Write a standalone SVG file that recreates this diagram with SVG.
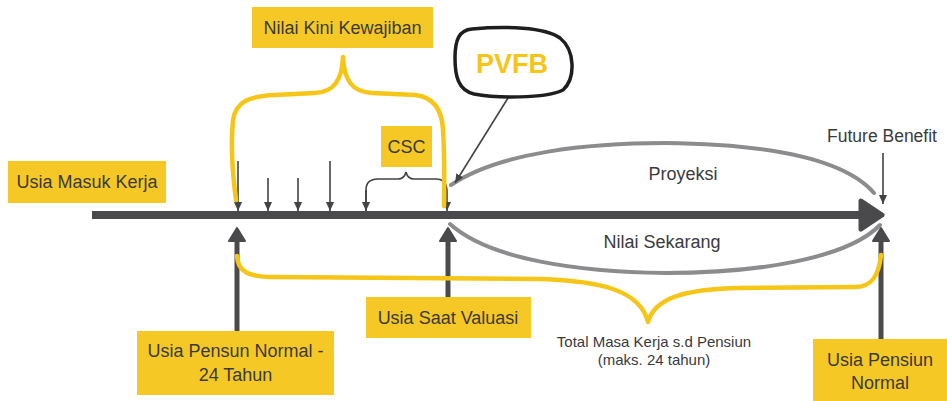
<svg xmlns="http://www.w3.org/2000/svg" width="947" height="401" viewBox="0 0 947 401">
<style>
.box{fill:#F5C826}
.t{font-family:"Liberation Sans",Arial,sans-serif;fill:#3a3a3c;text-anchor:middle}
.thin{stroke:#434345;stroke-width:1.6;fill:none}
.thick{stroke:#4a4a4c;stroke-width:5;fill:none}
.yel{stroke:#F5C518;stroke-width:4.5;fill:none;stroke-linecap:round;stroke-linejoin:round}
.grey{stroke:#8c8c8e;stroke-width:4;fill:none;stroke-linecap:round}
</style>
<defs>
<marker id="sa" markerUnits="userSpaceOnUse" markerWidth="10" markerHeight="10" viewBox="0 0 10 10" refX="9" refY="5" orient="auto">
<path d="M0,1 L9,5 L0,9 z" fill="#434345"/>
</marker>
<marker id="ta" markerUnits="userSpaceOnUse" markerWidth="18" markerHeight="18" viewBox="0 0 18 18" refX="4" refY="9" orient="auto">
<path d="M2,1 L15,9 L2,17 z" fill="#4a4a4c" stroke="#4a4a4c" stroke-width="2" stroke-linejoin="round"/>
</marker>
</defs>
<rect width="947" height="401" fill="#ffffff"/>

<g id="connectors">
<path class="grey" d="M451 185 C500 152 590 143 665 143 C760 144 842 156 874 193"/>
<path class="grey" d="M450 224 C490 260 580 272 665 273 C760 273 848 258 880 225"/>
<line x1="92" y1="215" x2="864" y2="215" stroke="#4a4a4c" stroke-width="8"/>
<polygon points="861,201 882,215 861,229" fill="#4a4a4c" stroke="#4a4a4c" stroke-width="5" stroke-linejoin="round"/>
<line class="thin" x1="238" y1="161" x2="238" y2="211" marker-end="url(#sa)"/>
<line class="thin" x1="268" y1="178" x2="268" y2="211" marker-end="url(#sa)"/>
<line class="thin" x1="298" y1="178" x2="298" y2="211" marker-end="url(#sa)"/>
<line class="thin" x1="330" y1="161" x2="330" y2="211" marker-end="url(#sa)"/>
<path class="thin" d="M366 211 L366 190 C366 182 370 179 378 179 L398 179 C403 179 405 176 406 172 C407 176 409 179 414 179 L436 179 C444 179 447 184 447 192 L447 211" marker-end="url(#sa)"/>
<path class="thin" d="M366 190 L366 211" marker-end="url(#sa)"/>
<line class="thin" x1="508" y1="98" x2="455" y2="183" marker-end="url(#sa)"/>
<line class="thin" x1="883" y1="153" x2="883" y2="204" marker-end="url(#sa)"/>
<line class="thick" x1="237" y1="331" x2="237" y2="239" marker-end="url(#ta)"/>
<line class="thick" x1="448" y1="297" x2="448" y2="239" marker-end="url(#ta)"/>
<line class="thick" x1="881" y1="339" x2="881" y2="239" marker-end="url(#ta)"/>
<path class="yel" d="M236 200 C232 170 231 140 233 120 C236 101 250 96 275 95 L315 93 C334 92 342 80 343 57 C344 80 352 92 372 93 L415 95 C434 97 442 110 443 130 C445 160 444 185 444 206"/>
<path class="yel" d="M237 256 C238 272 248 277 275 277 L540 279 C600 281 640 290 648 322 C655 296 690 289 740 288 L855 287 C872 287 879 275 881 255"/>
</g>

<g id="nilai-kini">
<rect class="box" x="252" y="7" width="181" height="41"/>
<text class="t" x="342.5" y="34" font-size="18">Nilai Kini Kewajiban</text>
</g>
<g id="csc">
<rect class="box" x="381" y="126" width="51" height="41"/>
<text class="t" x="406.5" y="153" font-size="18">CSC</text>
</g>
<g id="usia-masuk">
<rect class="box" x="8" y="161" width="158" height="42"/>
<text class="t" x="87" y="188" font-size="18">Usia Masuk Kerja</text>
</g>
<g id="pvfb">
<path d="M472 29 C505 26 545 27 560 38 C575 50 576 78 563 90 C545 99 495 98 474 94 C458 90 455 76 455 58 C455 40 459 30 472 29 Z" fill="#ffffff" stroke="#1e1e1e" stroke-width="3.5" stroke-linejoin="round"/>
<text x="512" y="73" font-size="27" font-weight="bold" font-family="'Liberation Sans',Arial,sans-serif" fill="#F5C518" text-anchor="middle">PVFB</text>
</g>
<g id="future-benefit">
<text class="t" x="882" y="142" font-size="17.5">Future Benefit</text>
</g>
<g id="proyeksi">
<text class="t" x="683" y="180" font-size="18">Proyeksi</text>
</g>
<g id="nilai-sekarang">
<text class="t" x="662" y="248" font-size="18">Nilai Sekarang</text>
</g>
<g id="usia-pensun-24">
<rect class="box" x="137" y="331" width="197" height="64"/>
<text class="t" x="235.5" y="357" font-size="18">Usia Pensun Normal -</text>
<text class="t" x="235.5" y="381" font-size="18">24 Tahun</text>
</g>
<g id="usia-saat-valuasi">
<rect class="box" x="366" y="297" width="165" height="41"/>
<text class="t" x="448" y="324" font-size="18">Usia Saat Valuasi</text>
</g>
<g id="total-masa">
<text class="t" x="654" y="347" font-size="15">Total Masa Kerja s.d Pensiun</text>
<text class="t" x="654" y="365" font-size="15">(maks. 24 tahun)</text>
</g>
<g id="usia-pensiun-normal">
<rect class="box" x="813" y="339" width="134" height="62"/>
<text class="t" x="880" y="366" font-size="18">Usia Pensiun</text>
<text class="t" x="880" y="389" font-size="18">Normal</text>
</g>
</svg>
